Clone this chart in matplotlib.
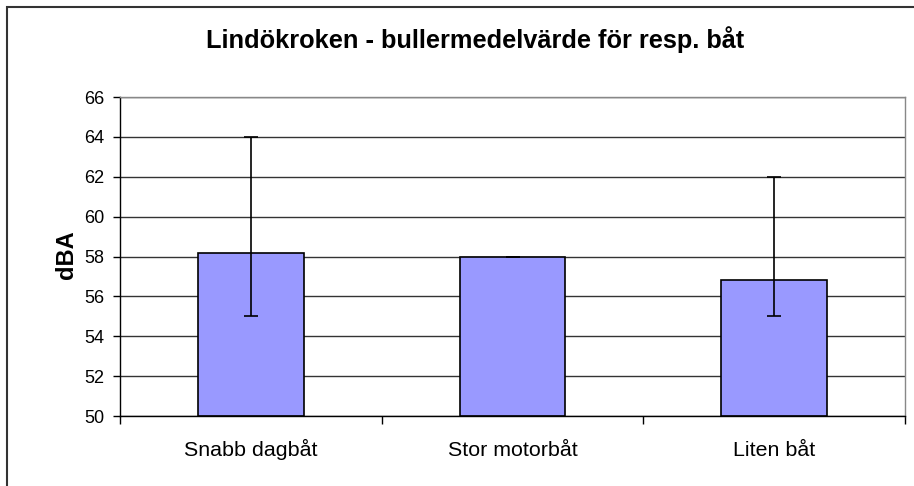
import matplotlib
matplotlib.use("Agg")
import matplotlib.pyplot as plt
from matplotlib.patches import Rectangle
import matplotlib.transforms as mtransforms

categories = ["Snabb dagbåt", "Stor motorbåt", "Liten båt"]
means = [58.2, 57.95, 56.8]
err_low = [55.0, 57.95, 55.0]
err_high = [64.0, 57.95, 62.0]
yticks = [50, 52, 54, 56, 58, 60, 62, 64, 66]

plt.rcParams['font.family'] = ['Liberation Sans', 'DejaVu Sans']

W, H = 914, 486
fig = plt.figure(figsize=(W / 100, H / 100), dpi=100)
ax = fig.add_axes([120 / W, 1 - 416 / H, (905 - 120) / W, (416 - 97) / H])

x = list(range(len(categories)))
yerr = [[m - lo for m, lo in zip(means, err_low)], [hi - m for m, hi in zip(means, err_high)]]
ax.bar(x, [m - 50 for m in means], bottom=50, width=0.405, color="#9999ff",
       edgecolor="black", linewidth=1.2, zorder=2)
ax.errorbar(x, means, yerr=yerr, fmt="none", ecolor="black", elinewidth=1.2,
            capsize=5, capthick=1.2, zorder=3)

ax.set_xlim(-0.5, len(categories) - 0.5)
ax.set_ylim(50, 66)
ax.set_yticks(yticks)
ax.set_yticklabels([str(v) for v in yticks], fontsize=13)
ax.yaxis.grid(True, color="#333333", linewidth=1.0, zorder=0)
ax.set_axisbelow(True)

ax.set_xticks([i - 0.5 for i in range(len(categories) + 1)])
ax.set_xticklabels([])
ax.tick_params(axis="x", which="major", length=6, direction="out", width=1)
ax.tick_params(axis="y", length=5, direction="out", width=1, pad=6)

trans = mtransforms.blended_transform_factory(ax.transData, ax.transAxes)
for xi, lab in zip(x, categories):
    ax.text(xi, (416 - 456) / 319, lab, transform=trans, ha="center", va="baseline",
            fontsize=15.4, clip_on=False)

for s in ["top", "right"]:
    ax.spines[s].set_color("#888888")
    ax.spines[s].set_linewidth(1)
for s in ["left", "bottom"]:
    ax.spines[s].set_color("black")
    ax.spines[s].set_linewidth(1)

fig.text(67 / W, 1 - 255 / H, "dBA", rotation=90, ha="center", va="center",
         fontsize=17, fontweight="bold")

fig.text(475 / W, 1 - 40 / H, "Lindökroken - bullermedelvärde för resp. båt",
         ha="center", va="center", fontsize=18.3, fontweight="bold")

fig.patches.append(Rectangle((7 / W, -0.1), 1.2, 1 - 7 / H + 0.1, transform=fig.transFigure,
                             fill=False, edgecolor="#333333", linewidth=1.5))

fig.savefig("out.png", dpi=100)
